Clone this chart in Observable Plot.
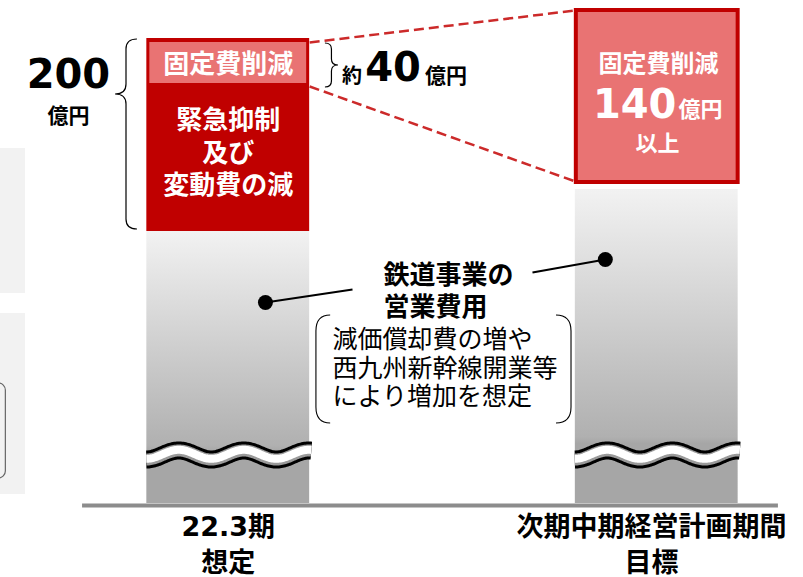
<!DOCTYPE html>
<html><head><meta charset="utf-8">
<script src="https://cdn.jsdelivr.net/npm/d3@7"></script>
<script src="https://cdn.jsdelivr.net/npm/@observablehq/plot@0.6"></script>
<style>html,body{margin:0;padding:0;background:#fff}#chart svg{display:block}</style>
</head><body><div id="chart"></div>
<script>
// ---- data (schematic units, broken axis) ----
const categories = ["22.3期\n想定", "次期中期経営計画期間\n目標"];
const operatingCost = [272, 314];   // 鉄道事業の営業費用
const emergencyCut = [148, 0];      // 緊急抑制及び変動費の減
const fixedCut = [45, 181];         // 固定費削減
const breakLevel = 48;              // axis break (wave)
const totalLabel = ["200", "億円"];
const fixedLabelLeft = ["約", "40", "億円"];
const fixedLabelRight = ["固定費削減", "140", "億円", "以上"];

const bars = categories.map((c, i) => ({
  i, c, base: operatingCost[i], emergency: emergencyCut[i], fixed: fixedCut[i]
}));

// ---- layout (index units for x, value units for y) ----
const HW = 0.19;
const RED = "#C00000", PINK = "#e97373";
const JP = "'Noto Sans CJK JP', sans-serif";
const LAT = "'DejaVu Sans', 'Noto Sans CJK JP', sans-serif";

const dots = [{x: 0.0868, y: 201}, {x: 0.880, y: 244}];
const connectors = [
  {x1: 0.0868, y1: 201, x2: 0.290, y2: 214},
  {x1: 0.710, y1: 231, x2: 0.880, y2: 244}
];
const dashed = [
  {x1: 0 + HW, y1: 461, x2: 1 - HW, y2: 493},
  {x1: 0 + HW, y1: 417, x2: 1 - HW, y2: 322}
];
const braces = [
  {xe: -0.2119, xt: -0.263, yt: 464, yb: 274, ym: 409, r: 10},
  {xe: 0.2268, xt: 0.2572, yt: 460, yb: 416, ym: 438, r: 6}
];
const parens = [
  {xe: 0.2390, xv: 0.2058, yt: 188, yb: 80},
  {xe: 0.766, xv: 0.8011, yt: 188, yb: 80}
];

function gradientMark() {
  const g = d3.create("svg:g");
  const lg = g.append("defs").append("linearGradient")
    .attr("id", "grayGrad").attr("x1", 0).attr("y1", 0).attr("x2", 0).attr("y2", 1);
  [[0, "#f2f2f2"], [0.79, "#b0b0b0"], [0.81, "#a6a6a6"], [1, "#a6a6a6"]]
    .forEach(([o, c]) => lg.append("stop").attr("offset", o).attr("stop-color", c));
  return g.node();
}

function waveMark(index, scales) {
  const g = d3.create("svg:g");
  const yc = scales.y(breakLevel);
  bars.forEach(d => {
    const x0 = scales.x(d.i - HW), x1 = scales.x(d.i + HW) + 3;
    const pts = [];
    for (let x = x0; x <= x1; x += 1) pts.push([x, yc + 4.5 * Math.cos(2 * Math.PI * (x - x0) / 65)]);
    const p = d3.line()(pts);
    g.append("path").attr("d", p).attr("fill", "none").attr("stroke", "#000").attr("stroke-width", 18);
    g.append("path").attr("d", p).attr("fill", "none").attr("stroke", "#9a9a9a").attr("stroke-width", 12);
    g.append("path").attr("d", p).attr("fill", "none").attr("stroke", "#fff").attr("stroke-width", 8).attr("transform", "translate(0,-0.7)");
  });
  return g.node();
}

function braceMark(index, scales) {
  const g = d3.create("svg:g");
  braces.forEach(b => {
    const xe = scales.x(b.xe), xt = scales.x(b.xt), xm = (xe + xt) / 2;
    const yt = scales.y(b.yt), yb = scales.y(b.yb), ym = scales.y(b.ym), r = b.r;
    g.append("path")
      .attr("d", `M${xe},${yt} Q${xm},${yt} ${xm},${yt + r} L${xm},${ym - r} Q${xm},${ym} ${xt},${ym} Q${xm},${ym} ${xm},${ym + r} L${xm},${yb - r} Q${xm},${yb} ${xe},${yb}`)
      .attr("fill", "none").attr("stroke", "#000").attr("stroke-width", 1.2);
  });
  parens.forEach(b => {
    const xe = scales.x(b.xe), xv = scales.x(b.xv);
    const yt = scales.y(b.yt), yb = scales.y(b.yb), r = 16;
    g.append("path")
      .attr("d", `M${xe},${yt} Q${xv},${yt} ${xv},${yt + r} L${xv},${yb - r} Q${xv},${yb} ${xe},${yb}`)
      .attr("fill", "none").attr("stroke", "#000").attr("stroke-width", 1.1);
  });
  return g.node();
}

const textBase = {fill: "#000", fontWeight: "bold", fontFamily: JP};

const plot = Plot.plot({
  width: 803, height: 577,
  marginLeft: 0, marginRight: 0, marginTop: 8, marginBottom: 74,
  x: {type: "linear", domain: [-0.5315, 1.3425], axis: null},
  y: {domain: [0, 495], axis: null},
  style: {fontFamily: JP, background: "#fff", overflow: "visible"},
  marks: [
    gradientMark,
    // left cut-off panels of neighbouring figure
    Plot.rect([{y1: 210, y2: 355}, {y1: 9, y2: 190}], {x1: -0.5315, x2: -0.473, y1: "y1", y2: "y2", fill: "#f2f2f2"}),
    Plot.rect([{y1: 25, y2: 120}], {x1: -0.6, x2: -0.519, y1: "y1", y2: "y2", fill: "none", stroke: "#666", strokeWidth: 1.2, rx: 7}),
    // gray operating cost bars
    Plot.rectY(bars, {x1: d => d.i - HW, x2: d => d.i + HW, y1: 0, y2: "base", fill: "url(#grayGrad)"}),
    // left: emergency + fixed (dark red), fixed portion (pink)
    Plot.rectY(bars.filter(d => d.emergency > 0), {x1: d => d.i - HW, x2: d => d.i + HW, y1: "base", y2: d => d.base + d.emergency + d.fixed, fill: RED}),
    Plot.rectY(bars.filter(d => d.emergency > 0), {x1: d => d.i - HW, x2: d => d.i + HW, y1: d => d.base + d.emergency, y2: d => d.base + d.emergency + d.fixed, fill: PINK, insetLeft: 3, insetRight: 3, insetTop: 4}),
    // right: fixed cost reduction target
    Plot.rectY(bars.filter(d => d.emergency === 0), {x1: d => d.i - HW, x2: d => d.i + HW, y1: "base", y2: d => d.base + d.fixed, fill: PINK, stroke: RED, strokeWidth: 4, insetLeft: 1, insetRight: 0, insetTop: 2, insetBottom: 7}),
    waveMark,
    Plot.ruleY([0], {x1: -0.34, x2: 1.284, stroke: "#8c8c8c", strokeWidth: 4, dy: 2}),
    // dashed links
    Plot.link(dashed, {x1: "x1", y1: "y1", x2: "x2", y2: "y2", stroke: "#cc2a2a", strokeWidth: 2.5, strokeDasharray: "10,5"}),
    braceMark,
    // connectors
    Plot.link(connectors, {x1: "x1", y1: "y1", x2: "x2", y2: "y2", stroke: "#000", strokeWidth: 2.2}),
    Plot.dot(dots, {x: "x", y: "y", r: 7.5, fill: "#000"}),
    // texts inside bars
    Plot.text(["固定費削減"], {...textBase, x: 0, y: 438.5, fill: "#fff", fontSize: 26}),
    Plot.text(["緊急抑制\n及び\n変動費の減"], {...textBase, x: 0, y: 352, fill: "#fff", fontSize: 26, lineHeight: 1.25}),
    Plot.text([fixedLabelRight[0]], {...textBase, x: 1.004, y: 439, fill: "#fff", fontSize: 24}),
    Plot.text([fixedLabelRight[1]], {...textBase, fontFamily: LAT, x: 1.046, y: 386, fill: "#fff", fontSize: 40, textAnchor: "end", lineAnchor: "bottom"}),
    Plot.text([fixedLabelRight[2]], {...textBase, x: 1.0507, y: 387, fill: "#fff", fontSize: 22, textAnchor: "start", lineAnchor: "bottom"}),
    Plot.text([fixedLabelRight[3]], {...textBase, x: 1.0016, y: 360, fill: "#fff", fontSize: 22}),
    // left totals
    Plot.text([totalLabel[0]], {...textBase, fontFamily: LAT, x: -0.373, y: 416, fontSize: 40, lineAnchor: "bottom"}),
    Plot.text([totalLabel[1]], {...textBase, x: -0.373, y: 381, fontSize: 21, lineAnchor: "bottom"}),
    Plot.text([fixedLabelLeft[0]], {...textBase, x: 0.2655, y: 421, fontSize: 20, textAnchor: "start", lineAnchor: "bottom"}),
    Plot.text([fixedLabelLeft[1]], {...textBase, fontFamily: LAT, x: 0.3195, y: 423, fontSize: 40, textAnchor: "start", lineAnchor: "bottom"}),
    Plot.text([fixedLabelLeft[2]], {...textBase, x: 0.459, y: 421, fontSize: 21, textAnchor: "start", lineAnchor: "bottom"}),
    // annotations
    Plot.text(["鉄道事業の\n営業費用"], {...textBase, x: 0.3622, y: 214, fontSize: 26, textAnchor: "start", lineHeight: 1.25}),
    Plot.text(["減価償却費の増や\n西九州新幹線開業等\nにより増加を想定"], {fill: "#000", fontFamily: JP, fontWeight: "normal", x: 0.2432, y: 136, fontSize: 25, textAnchor: "start", lineHeight: 1.13}),
    // category labels
    Plot.text([categories[0]], {...textBase, fontFamily: LAT, x: 0, y: 0, dy: 39, fontSize: 27, lineHeight: 1.33}),
    Plot.text([categories[1]], {...textBase, fontFamily: LAT, x: 0.9876, y: 0, dy: 39, fontSize: 27, lineHeight: 1.33})
  ]
});
document.getElementById("chart").appendChild(plot);
</script>
</body></html>
